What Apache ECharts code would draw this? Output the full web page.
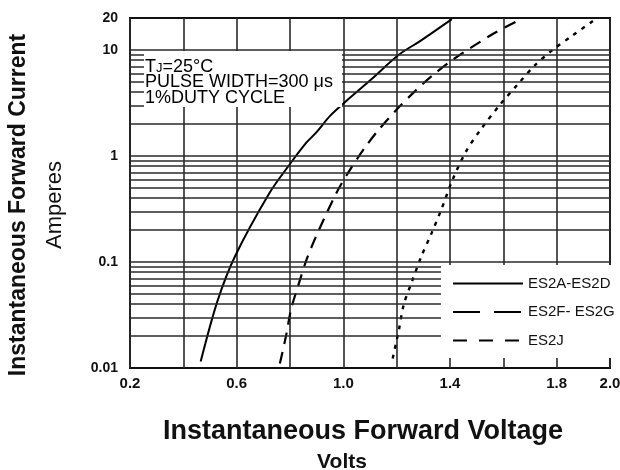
<!DOCTYPE html>
<html><head><meta charset="utf-8">
<script src="https://cdn.jsdelivr.net/npm/echarts@6/dist/echarts.min.js"></script>
<style>html,body{margin:0;padding:0;background:#fff}#c{width:620px;height:470px}</style>
</head><body><div id="c"></div>
<script>
// ---- data ----
const seriesNames = ['ES2A-ES2D', 'ES2F- ES2G', 'ES2J'];

const es2aVolts = [0.465, 0.527, 0.593, 0.723, 0.800, 0.862, 0.898, 0.951, 1.011, 1.102, 1.208, 1.292, 1.407];
const es2aAmps  = [0.0115, 0.042, 0.112, 0.447, 0.84, 1.34, 1.66, 2.4, 3.3, 5.2, 9.0, 12.3, 19.5];

const es2fVolts = [0.762, 0.785, 0.804, 0.830, 0.862, 0.898, 0.974, 1.026, 1.083, 1.132, 1.200, 1.273, 1.335, 1.417, 1.562, 1.652];
const es2fAmps  = [0.011, 0.020, 0.0358, 0.059, 0.105, 0.175, 0.447, 0.748, 1.22, 1.76, 2.74, 4.18, 5.76, 8.3, 14.2, 18.7];

const es2jVolts = [1.185, 1.208, 1.227, 1.258, 1.292, 1.331, 1.369, 1.410, 1.459, 1.514, 1.590, 1.656, 1.719, 1.785, 1.860, 1.936];
const es2jAmps  = [0.0123, 0.0227, 0.040, 0.066, 0.112, 0.187, 0.32, 0.6, 1.09, 1.76, 3.1, 4.8, 7.2, 10, 13.7, 18.7];

const xTickLabels = ['0.2', '0.6', '1.0', '1.4', '1.8', '2.0'];
const yTickLabels = ['0.01', '0.1', '1', '10', '20'];
const yGridValues = [0.02, 0.03, 0.04, 0.05, 0.06, 0.07, 0.08, 0.09, 0.1,
                     0.2, 0.3, 0.4, 0.5, 0.6, 0.7, 0.8, 0.9, 1,
                     2, 3, 4, 5, 6, 7, 8, 9, 10];

const noteLines = ['=25°C', 'PULSE WIDTH=300 μs', '1%DUTY CYCLE'];
const xTitle = 'Instantaneous Forward Voltage';
const xUnit = 'Volts';
const yTitle = 'Instantaneous Forward Current';
const yUnit = 'Amperes';

// ---- chart ----
const FONT = '"Liberation Sans", Arial, sans-serif';
const pair = (xs, ys) => xs.map((v, i) => [v, ys[i]]);
const chart = echarts.init(document.getElementById('c'), null, {renderer: 'canvas'});

const seriesStyles = [
  {type: 'solid', width: 2},
  {type: [12, 8], width: 2.2},
  {type: [4, 6], width: 2.4}
];
const legendDash = ['solid', [27, 14], [14, 12]];
const dataSets = [pair(es2aVolts, es2aAmps), pair(es2fVolts, es2fAmps), pair(es2jVolts, es2jAmps)];

const series = seriesNames.map((n, i) => ({
  name: n, type: 'line', data: dataSets[i], smooth: 0.3,
  symbol: 'none', showSymbol: false, z: 3,
  lineStyle: {color: '#000', width: seriesStyles[i].width, type: seriesStyles[i].type},
  itemStyle: {color: '#000'}
}));
series.push({
  name: 'grid', type: 'line', data: [], z: 1, silent: true,
  markLine: {
    silent: true, symbol: ['none', 'none'], label: {show: false},
    lineStyle: {color: '#2a2a2a', width: 1.5, type: 'solid'},
    emphasis: {disabled: true},
    data: yGridValues.map(v => ({yAxis: v}))
  }
});

chart.setOption({
  animation: false,
  backgroundColor: '#fff',
  grid: {left: 130, right: 10, top: 18, bottom: 102, containLabel: false, outerBoundsMode: 'none',
         show: true, borderColor: '#111', borderWidth: 2, backgroundColor: 'transparent'},
  xAxis: {
    type: 'value', min: 0.2, max: 2.0, interval: 0.2,
    axisLine: {show: false}, axisTick: {show: false},
    splitLine: {show: true, lineStyle: {color: '#2a2a2a', width: 1.6}},
    axisLabel: {
      margin: 8, color: '#111', fontFamily: FONT, fontSize: 15, fontWeight: 'bold',
      formatter: v => { const s = (Math.round(v * 10) / 10).toFixed(1); return xTickLabels.includes(s) ? s : ''; }
    },
    name: '{a|' + xTitle + '}\n{b|' + xUnit + '}',
    nameLocation: 'middle', nameGap: 49,
    nameTextStyle: {
      rich: {
        a: {fontFamily: FONT, fontSize: 27, fontWeight: 'bold', color: '#111', lineHeight: 30, padding: [0, 14, 0, 0]},
        b: {fontFamily: FONT, fontSize: 21, fontWeight: 'bold', color: '#111', lineHeight: 30, padding: [0, 56, 0, 0]}
      }
    }
  },
  yAxis: {
    type: 'log', logBase: 10, min: 0.01, max: 20,
    axisLine: {show: false}, axisTick: {show: false},
    splitLine: {show: false},
    axisLabel: {
      margin: 12, color: '#111', fontFamily: FONT, fontSize: 14, fontWeight: 'bold',
      formatter: v => {
        const lv = Math.log10(v);
        const m = yTickLabels.find(t => Math.abs(Math.log10(parseFloat(t)) - lv) < 0.01);
        return m || '';
      }
    },
    name: '{a|' + yTitle + '}\n{b|' + yUnit + '}',
    nameLocation: 'middle', nameGap: 57,
    nameTextStyle: {
      rich: {
        a: {fontFamily: FONT, fontSize: 23, fontWeight: 'bold', color: '#111', lineHeight: 36, padding: [0, 24, 0, 0]},
        b: {fontFamily: FONT, fontSize: 22, color: '#111', lineHeight: 36, padding: [0, 24, 0, 0]}
      }
    }
  },
  legend: {
    orient: 'vertical', left: 447, top: 271, z: 20, padding: 5,
    itemWidth: 70, itemHeight: 14, itemGap: 13.5,
    selectedMode: false,
    textStyle: {fontFamily: FONT, fontSize: 15, color: '#111'},
    data: seriesNames.map((n, i) => ({
      name: n,
      itemStyle: {color: 'rgba(0,0,0,0)', opacity: 0, borderWidth: 0},
      lineStyle: {type: legendDash[i], width: 2, color: '#000', opacity: 1}
    }))
  },
  graphic: [
    {type: 'rect', z: 10, shape: {x: 144, y: 51, width: 198, height: 56}, style: {fill: '#fff'}},
    {type: 'rect', z: 10, shape: {x: 441, y: 265, width: 171, height: 93}, style: {fill: '#fff'}},
    {type: 'text', z: 11, left: 145, top: 58, style: {
      text: '{t|T}{s|J}{t|' + noteLines[0] + '}\n{t|' + noteLines[1] + '}\n{t|' + noteLines[2] + '}',
      rich: {
        t: {fontFamily: FONT, fontSize: 18, color: '#111', lineHeight: 15.5},
        s: {fontFamily: FONT, fontSize: 13, color: '#111', lineHeight: 15.5, verticalAlign: 'bottom'}
      }
    }}
  ],
  series: series
});
</script>
</body></html>
